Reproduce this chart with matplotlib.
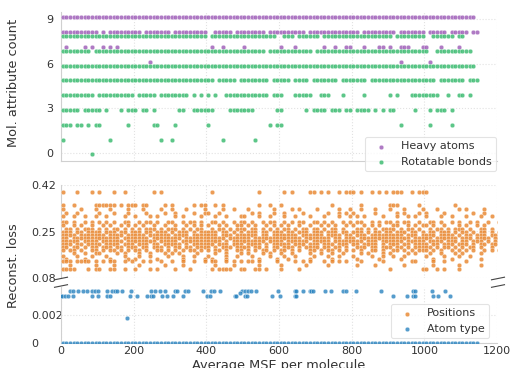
import numpy as np
import matplotlib
matplotlib.use("Agg")
import matplotlib.pyplot as plt
from matplotlib.lines import Line2D

# x positions in bins of 10 units (bin i -> x = 10*i + 5)
BIN = 10

# top panel: bins that hold a dot on each row ("a-b" = every bin from a to b)
heavy_rows = {
    9: "0-113",
    8: "0-9 11 13-21 23-29 31-39 42-46 48-55 57-66 68-81 83-91 93-99 101-105 107-111 113 114",
    7: "1 6 8 11 13 15 41 44 50 60 64 72 75 78 79 83 87 88 90 93 94 95 99 100 104 109",
    6: "24 93 101",
}
rot_rows = {
    8: "0-39 41-58 61-63 65-70 72-90 92-99 102-107 109-110",
    7: "0-7 9-55 57-68 70-100 103-112",
    6: "0-113",
    5: "0-41 43-47 49-56 58-62 64-67 69-75 77-83 85-102 104-110 112-114",
    4: "0-8 10-19 21-25 27-34 36 38 40 42 45-56 58-60 64-68 71-73 77 83 90 92 96-103 106 109 110 112",
    3: "0-4 6-10 12 16 18-20 22 23 25 32 33 36-41 46-52 59 60 67 69-72 74-76 78 79 81-84 86 88 90 91 97 101 103-105 107",
    2: "0-2 4 5 7 9 10 18 25 26 31 40 57 59 60 93 101 107",
    1: "0 13 27 30 44 53",
    0: "8",
}

# middle panel: positions loss, one mask per loss level ('#' = dot in that bin)
pos_rows = {
    0.396: "#...#...#. #...#..#.. .....#.#.. .......... .#........ ....#..... .#.#....## .#.#..#.## #.#..#.#.# .###..#.## #......... .....",
    0.347: "#..#.....# #####.#.## #.##....#. #.....#.## ..#.#..... ....#..#.. #......... ....#..... ..#....... ###.....#. ........#. .....",
    0.331: "#....#...# ...#....#. ..#....#.. #...#....# ....#..#.. .#......#. ...#.#.... #.....#..# ..#...#... #...#....# ...#.....# .#....#... .....",
    0.318: ".#..#..... #...#...#. ...#....#. .#....#..# #..#...... ..#.#...#. .#....#... ...#..#.#. #.....#... ..#.#...#. #....#.... ...#..#... .....",
    0.305: "#..#..#..# ..#....#.. #...#.#... .#.#....#. ..#..#...# #...#..#.. .#..#...#. ..#...#..# .#.#....#. ..#..#.#.. #...#..#.. .#...#..#. .....",
    0.286: "##.#..#.#. #.#.#..##. .#.##.#..# #..#.##.#. .##.#..#.# #.#..#.##. .#.#.##..# #.#.#..#.# .##..#.#.# #.#.##..#. .##.#..#.# ..#.#..#.. #....",
    0.272: "#..#.#..#. .#.#..#.#. #.#..#..#. .#..#.#.#. #..#.#..## .#.#..#.#. #.#..#..#. .#.#.#..#. #..#.#.#.. .##..#.#.# #.#..#...# .#..#.#... .....",
    0.260: ".##.#.###. #.#.##.#.# .#.###.#.# ##.#.#.##. .#.##.#.## #.##.#.#.# .##.#.##.# #.#.##.#.. .##.#.#.## ##.#.##.#. .#.##.#.## #.#..##.#. .#.#.",
    0.248: "###.##.### #.###.##.# ##.##.###. #.###.#.## ###.##.#.# .###.##.## #.##.###.# ##.###.##. ###.#.##.# #.###.##.# .##.###.#. ##.#.##.#. #..#.",
    0.237: "####.##### ##.####.## ###.###### .####.#### ###.###.## ####.##.## #####.#### ##.####.## .###.##### ####.###.# ###.####.# .##.###.## .#.#.",
    0.226: "##.####### ######.### ####.##### ###.###### #####.#### ##.####### ######.### ####.##.## #.######## ######.### ##.######. ###.####.# #.##.",
    0.215: "#####.#### .######.## ######.### ##.####### ####.#.### ######.### #.######.# ####.##### ###.###.## ####.##### .####.###. ##.###.#.# .##..",
    0.204: "###.##.### #.####.### .###.##.## ###.#.#### ##.###.### .####.#.## ###.###.## #.###.###. ##.####.#. ###.##.### #.##.###.# ##.#.##.## ..#.#",
    0.193: "##.##.#.## .###.##.## #.##.###.# .##.##.### #.#.###.## ##.##.#.## .###.#.### #.##.##.#. .###.##.## #.##.#.### ##.#.##.#. #.##.#..#. .#..#",
    0.182: "#.##.#..## .#.##.#.#. ##.#..##.# .#.#.##.#. #.##.#..## .#.#.##.#. ##.#.#..## .#.##.#.#. #.#..##.#. .##.#.#.## #.#.#..#.# .#.#..#.#. #....",
    0.171: "...#..#..# #....#.#.. .#..#...#. #.#....#.. ..#..#...# .#...#.#.. #..#....#. .#..#..#.. ..#.#...#. #....#.#.. .#..#...#. #....#.... .....",
    0.160: "#...#...#. ..#....#.. .#..#....# ...#..#... #....#..#. ..#....#.. .#..#....# ...#..#... #....#..#. .#..#..... #....#...# ..#....... .....",
    0.150: ".#....#... ...#....#. #.....#... ...#.....# .#...#.... ....#....# ..#.....#. ....#..... .#.....#.. ...#...... ..#....#.. .....#.... .....",
    0.141: "###.####.# .#.##..#.# ..#.#..#.. #..#..#..# .##..#.#.# .##.#....# ....#.#.#. ..#.#.#.#. ..#.....#. ......##.. ..#..#.... .#...",
    0.127: "..#......# ....#..... .#......#. ...#...... ..#....#.. ....#..... #......#.. ...#...... .#....#... ....#..... ..#......# .....#.... .....",
    0.113: "####...#.# #..##..#.. #...#.#... .#...#.... .#.####..# #..##.#... #....#.... .......... .......... #........# #..#.#...# .....",
}

# bottom panel: atom type loss, x positions read directly
atom_hi_x = [25, 34, 48, 61, 71, 84, 94, 103, 126, 139, 149, 153, 167, 194, 249, 259, 272, 286,
             314, 318, 341, 350, 392, 414, 422, 437, 497, 506, 515, 524, 538, 598, 644, 648, 667,
             685, 689, 694, 726, 744, 777, 784, 813, 882, 969, 974, 1020, 1056]
atom_lo_x = [0, 2, 11, 20, 34, 84, 103, 126, 135, 190, 208, 236, 249, 254, 277, 291, 309, 337,
             401, 410, 479, 483, 506, 511, 580, 602, 644, 648, 914, 951, 969, 974, 1024, 1038, 1070]
atom_hi_y = 0.00376
atom_lo_y = 0.00341
atom_extra_x = [183, 492]
atom_extra_y = [0.00183, 0.0036]
atom_zero = "0-114"


def runs_to_x(spec):
    bins = []
    for tok in spec.split():
        if "-" in tok:
            a, b = tok.split("-")
            bins.extend(range(int(a), int(b) + 1))
        else:
            bins.append(int(tok))
    return np.array(bins) * BIN + BIN / 2


def mask_to_x(mask):
    s = mask.replace(" ", "")
    return np.array([i for i, c in enumerate(s) if c == "#"]) * BIN + BIN / 2


def rows_to_xy(rows, parse, offset=0.0):
    xs, ys = [], []
    for lvl, spec in rows.items():
        x = parse(spec)
        xs.append(x)
        ys.append(np.full(len(x), lvl + offset))
    return np.concatenate(xs), np.concatenate(ys)


PURPLE = "#9b59b6"
GREEN = "#33b86a"
ORANGE = "#e8842a"
BLUE = "#2b84c0"
GRID = "#e2e2e2"
SPINE = "#d0d0d0"
TXT = "#333333"
pt = dict(s=11, alpha=0.8, edgecolors="white", linewidths=0.3)

plt.rcParams["font.family"] = "DejaVu Sans"
W, H = 511, 368
fig = plt.figure(figsize=(W / 100, H / 100), dpi=100)
L, R = 61, 497
ax1 = fig.add_axes([L / W, 1 - 161 / H, (R - L) / W, (161 - 12) / H])
ax2 = fig.add_axes([L / W, 1 - 278 / H, (R - L) / W, (278 - 185) / H])
ax3 = fig.add_axes([L / W, 1 - 343 / H, (R - L) / W, (343 - 287) / H])

hx, hy = rows_to_xy(heavy_rows, runs_to_x, 0.15)
rx, ry = rows_to_xy(rot_rows, runs_to_x, -0.12)
ax1.scatter(hx, hy, color=PURPLE, label="Heavy atoms", zorder=3, **pt)
ax1.scatter(rx, ry, color=GREEN, label="Rotatable bonds", zorder=3, **pt)

px, py = rows_to_xy(pos_rows, mask_to_x)
sc_pos = ax2.scatter(px, py, color=ORANGE, label="Positions", zorder=3, **pt)

zx = runs_to_x(atom_zero)
ax_x = np.concatenate([atom_hi_x, atom_lo_x, atom_extra_x, zx])
ax_y = np.concatenate([np.full(len(atom_hi_x), atom_hi_y), np.full(len(atom_lo_x), atom_lo_y),
                       atom_extra_y, np.zeros(len(zx))])
sc_atom = ax3.scatter(ax_x, ax_y, color=BLUE, label="Atom type", zorder=3, **pt)

for ax in (ax1, ax2, ax3):
    ax.set_xlim(0, 1200)
    ax.set_xticks(range(0, 1201, 200))
    ax.grid(True, color=GRID, linestyle=":", linewidth=0.8)
    ax.set_axisbelow(True)
    ax.tick_params(length=0, labelsize=8, colors=TXT)
    for side in ("top", "right"):
        ax.spines[side].set_visible(False)
    for side in ("left", "bottom"):
        ax.spines[side].set_color(SPINE)
        ax.spines[side].set_linewidth(0.8)

ax1.set_ylim(-0.56, 9.5)
ax1.set_yticks([0, 3, 6, 9])
ax1.tick_params(axis="y", pad=5.8)
ax1.tick_params(axis="x", labelbottom=False)

ax2.set_ylim(0.08, 0.42)
ax2.set_yticks([0.08, 0.25, 0.42])
ax2.spines["bottom"].set_visible(False)
ax2.tick_params(axis="x", labelbottom=False)

ax3.set_ylim(0, 0.00405)
ax3.set_yticks([0, 0.002])
ax3.set_yticklabels(["0", "0.002"])
ax3.tick_params(axis="x", pad=2)
for ax in (ax2, ax3):
    ax.tick_params(axis="y", pad=21.5)
    for lab in ax.get_yticklabels():
        lab.set_horizontalalignment("left")
ax3.set_xlabel("Average MSE per molecule", fontsize=9.3, color=TXT, labelpad=2)

fig.text(14 / W, 1 - 83 / H, "Mol. attribute count", rotation=90, ha="center", va="center",
         fontsize=9.3, color=TXT)
fig.text(14 / W, 1 - 266 / H, "Reconst. loss", rotation=90, ha="center", va="center",
         fontsize=9.3, color=TXT)

leg_kw = dict(fontsize=8, frameon=True, fancybox=True, borderaxespad=0, loc="upper right",
              bbox_transform=fig.transFigure)
lg1 = ax1.legend(bbox_to_anchor=(496 / W, 1 - 137 / H), **leg_kw)
lg3 = ax3.legend([sc_pos, sc_atom], ["Positions", "Atom type"],
                 bbox_to_anchor=(489 / W, 1 - 304 / H), **leg_kw)
for lg in (lg1, lg3):
    lg.get_frame().set_edgecolor("#dddddd")
    lg.get_frame().set_linewidth(0.8)
    for t in lg.get_texts():
        t.set_color(TXT)

# broken-axis marks on both sides, between the two lower panels
for xc in (L, R + 1):
    for yc in (278.5, 286):
        fig.add_artist(Line2D([(xc - 6.5) / W, (xc + 6.5) / W],
                              [1 - (yc + 1.3) / H, 1 - (yc - 1.3) / H],
                              color="#444444", linewidth=0.8))

fig.savefig("out.png", dpi=100)
